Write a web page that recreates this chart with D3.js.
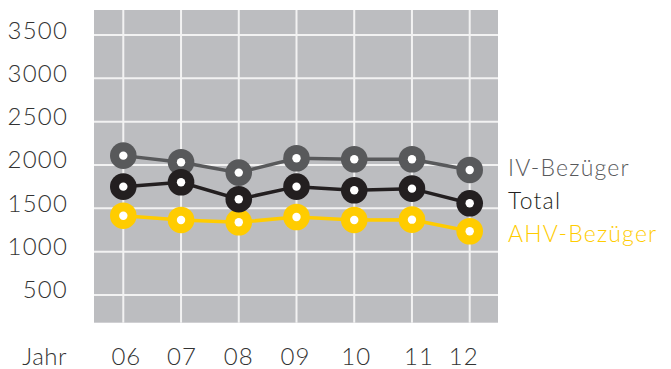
<!DOCTYPE html>
<html>
<head>
<meta charset="utf-8">
<script src="https://d3js.org/d3.v7.min.js"></script>
<style>
  body { margin: 0; background: #fff; }
  text { font-family: Lato, "Open Sans", sans-serif; font-weight: 300; }
</style>
</head>
<body>
<svg width="671" height="369"></svg>
<script>
// data
var years = [6, 7, 8, 9, 10, 11, 12];
var yearLabels = ["06", "07", "08", "09", "10", "11", "12"];
var ivValues = [2108, 2032, 1912, 2078, 2066, 2066, 1943];
var totalValues = [1750, 1801, 1605, 1750, 1708, 1727, 1558];
var ahvValues = [1415, 1366, 1339, 1400, 1366, 1369, 1235];
var yTicks = [500, 1000, 1500, 2000, 2500, 3000, 3500];
var seriesNames = ["IV-Bezüger", "Total", "AHV-Bezüger"];

var colors = ["#58595b", "#231f20", "#ffcc00"];
// small nudges so the year labels sit where they do in the original
var labelNudge = [3, 1, 0, -1, 2, 7, -6];

var svg = d3.select("svg");
var plotL = 94, plotR = 498, plotT = 10, plotB = 322.7;

var x = d3.scaleLinear().domain([6, 12]).range([123.3, 469.7]);
var y = d3.scaleLinear().domain([0, 3500]).range([338.3, 35]);

svg.append("rect")
  .attr("x", plotL).attr("y", plotT)
  .attr("width", plotR - plotL).attr("height", plotB - plotT)
  .attr("fill", "#bcbdc0");

// grid
svg.selectAll(".hgrid").data(yTicks).enter().append("line")
  .attr("x1", plotL).attr("x2", plotR)
  .attr("y1", function(d) { return y(d); })
  .attr("y2", function(d) { return y(d); })
  .attr("stroke", "#f2f2f2").attr("stroke-width", 2);
svg.selectAll(".vgrid").data(years).enter().append("line")
  .attr("x1", function(d) { return x(d); })
  .attr("x2", function(d) { return x(d); })
  .attr("y1", plotT).attr("y2", plotB)
  .attr("stroke", "#f2f2f2").attr("stroke-width", 2);

// y labels
svg.selectAll(".ylab").data(yTicks).enter().append("text")
  .attr("x", 68)
  .attr("y", function(d) { return y(d) + 3.5; })
  .attr("text-anchor", "end")
  .attr("fill", "#333")
  .style("font-size", "24px")
  .style("letter-spacing", "1.2px")
  .text(function(d) { return d; });

// x labels
svg.selectAll(".xlab").data(years).enter().append("text")
  .attr("x", function(d, i) { return x(d) + labelNudge[i]; })
  .attr("y", 365)
  .attr("text-anchor", "middle")
  .attr("fill", "#333")
  .style("font-size", "24px")
  .style("letter-spacing", "1px")
  .text(function(d, i) { return yearLabels[i]; });

svg.append("text").text("Jahr")
  .attr("x", 67).attr("y", 365)
  .attr("text-anchor", "end")
  .attr("fill", "#333")
  .style("font-size", "24px")
  .style("letter-spacing", "0.5px");

// series, IV and AHV first, total on top
var series = [ivValues, totalValues, ahvValues];
var line = d3.line()
  .x(function(d, i) { return x(years[i]); })
  .y(function(d) { return y(d); });

[0, 2, 1].forEach(function(s) {
  var g = svg.append("g");
  g.append("path")
    .attr("d", line(series[s]))
    .attr("fill", "none")
    .attr("stroke", colors[s])
    .attr("stroke-width", 3.5);
  g.selectAll(".dot").data(series[s]).enter().append("circle")
    .attr("cx", function(d, i) { return x(years[i]); })
    .attr("cy", function(d) { return y(d); })
    .attr("r", 13.3)
    .attr("fill", colors[s]);
  g.selectAll(".hole").data(series[s]).enter().append("circle")
    .attr("cx", function(d, i) { return x(years[i]); })
    .attr("cy", function(d) { return y(d); })
    .attr("r", 4.2)
    .attr("fill", "#fff");
});

// legend
var legendY = [176, 209, 242];
svg.selectAll(".leg").data(seriesNames).enter().append("text")
  .attr("x", 508)
  .attr("y", function(d, i) { return legendY[i]; })
  .attr("fill", function(d, i) { return colors[i]; })
  .style("font-size", "23px")
  .style("letter-spacing", "1.2px")
  .text(function(d) { return d; });
</script>
</body>
</html>
